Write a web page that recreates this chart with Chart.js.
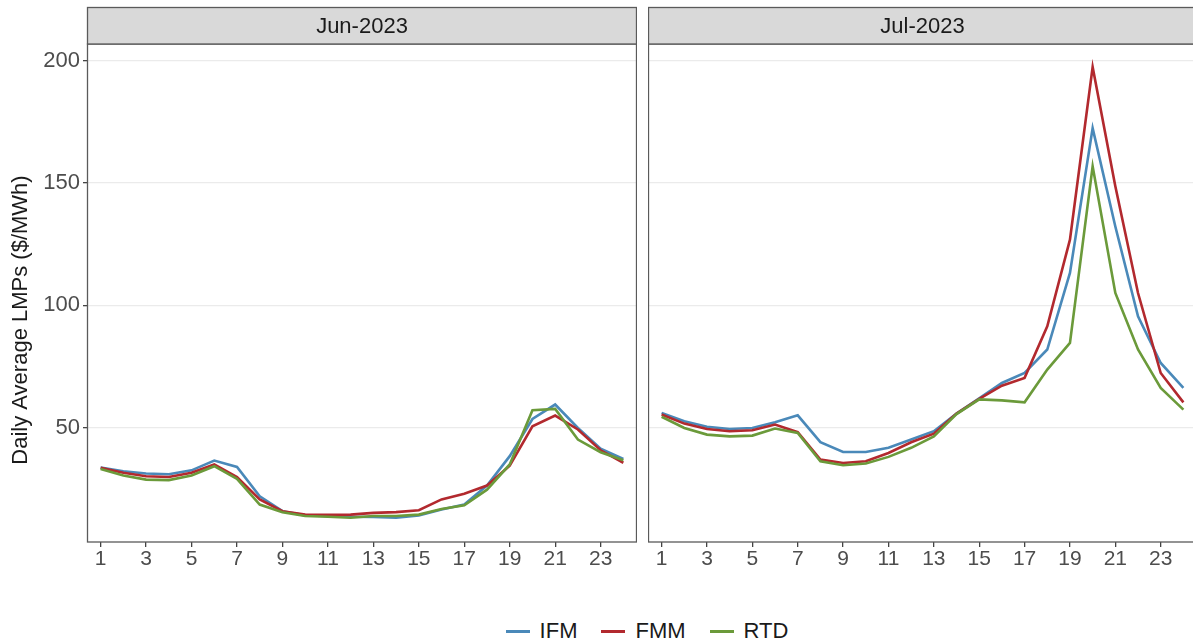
<!DOCTYPE html>
<html>
<head>
<meta charset="utf-8">
<script src="https://cdn.jsdelivr.net/npm/chart.js@4/dist/chart.umd.min.js"></script>
<style>
  html, body { margin: 0; padding: 0; background: #ffffff; }
  body { width: 1193px; height: 643px; overflow: hidden; position: relative; font-family: "Liberation Sans", Arial, sans-serif; }
  canvas { position: absolute; top: 0; }
  #cJun { left: 0; }
  #cJul { left: 648px; }
  #legend { position: absolute; top: 617px; left: 447px; width: 400px; height: 28px;
            display: flex; justify-content: center; align-items: center; }
  .item { display: flex; align-items: center; margin: 0 12px; font-size: 22px; color: #1a1a1a; }
  .swatch { width: 24px; height: 3px; margin-right: 10px; }
</style>
</head>
<body>
<canvas id="cJun" width="637" height="580"></canvas>
<canvas id="cJul" width="549" height="580"></canvas>
<div id="legend"></div>
<script>
// Hour of day (x categories)
const hours = [1, 2, 3, 4, 5, 6, 7, 8, 9, 10, 11, 12, 13, 14, 15, 16, 17, 18, 19, 20, 21, 22, 23, 24];
const xTickLabels = [1, 3, 5, 7, 9, 11, 13, 15, 17, 19, 21, 23];
const yTickLabels = [50, 100, 150, 200];

const seriesNames = ['IFM', 'FMM', 'RTD'];
const seriesColors = ['#4a89b9', '#b2292e', '#6b9a3a'];
const panelTitles = ['Jun-2023', 'Jul-2023'];
const yTitle = 'Daily Average LMPs ($/MWh)';

// June 2023 hourly average LMPs ($/MWh)
const junIFM = [33.6, 32.1, 31.2, 30.9, 32.5, 36.5, 33.9, 21.9, 15.8, 14.1, 13.8, 13.5, 13.4, 13.1, 14.0, 16.5, 18.5, 26.3, 38.3, 53.5, 59.4, 49.8, 41.3, 37.2];
const junFMM = [33.5, 31.5, 30.1, 29.8, 31.5, 34.9, 29.8, 20.6, 15.8, 14.4, 14.3, 14.4, 15.1, 15.4, 16.2, 20.6, 22.9, 26.3, 34.4, 50.5, 54.9, 49.2, 40.7, 35.6];
const junRTD = [33.0, 30.4, 28.7, 28.5, 30.4, 34.2, 29.0, 18.5, 15.4, 13.8, 13.5, 13.1, 13.8, 13.8, 14.4, 16.7, 18.2, 24.6, 34.9, 57.1, 57.6, 45.1, 39.9, 36.6];

// July 2023 hourly average LMPs ($/MWh)
const julIFM = [56.0, 52.6, 50.3, 49.4, 49.8, 52.2, 55.0, 44.0, 40.0, 40.0, 41.7, 45.1, 48.5, 55.7, 61.9, 68.2, 72.3, 81.9, 113.2, 172.4, 132.2, 95.5, 76.4, 66.2];
const julFMM = [55.3, 51.6, 49.4, 48.5, 48.9, 51.2, 48.1, 36.9, 35.5, 36.2, 39.6, 44.0, 47.5, 55.7, 61.7, 67.1, 70.3, 91.4, 126.8, 197.4, 148.6, 105.0, 72.3, 60.3];
const julRTD = [54.4, 49.8, 47.1, 46.4, 46.7, 49.6, 47.8, 36.2, 34.6, 35.3, 38.0, 41.7, 46.4, 55.5, 61.5, 61.1, 60.3, 73.7, 84.6, 156.8, 105.0, 81.9, 66.2, 57.3];

const Y_MIN = 3.2, Y_MAX = 206.8;
const X_MIN = 0.4, X_MAX = 24.6;
const FAMILY = '"Liberation Sans", Arial, sans-serif';
const TICK_FONT = { family: FAMILY, size: 21 };
const TEXT_SIZE = 22;

// Panel frame, facet strip and (left panel only) the y-axis title
const facetPlugin = {
  id: 'facet',
  afterDraw(chart, args, opts) {
    const { ctx, chartArea: a } = chart;
    ctx.save();
    ctx.lineWidth = 1.3;
    ctx.strokeStyle = '#5a5a5a';
    ctx.strokeRect(a.left + 0.5, a.top, a.right - a.left - 1, a.bottom - a.top);
    const sTop = 7.5, sBot = a.top;
    ctx.fillStyle = '#d9d9d9';
    ctx.fillRect(a.left + 0.5, sTop, a.right - a.left - 1, sBot - sTop);
    ctx.strokeRect(a.left + 0.5, sTop, a.right - a.left - 1, sBot - sTop);
    ctx.fillStyle = '#1a1a1a';
    ctx.font = `${TEXT_SIZE}px ${FAMILY}`;
    ctx.textAlign = 'center';
    ctx.textBaseline = 'middle';
    ctx.fillText(opts.title, (a.left + a.right) / 2, (sTop + sBot) / 2 + 1);
    if (opts.yTitle) {
      ctx.translate(21, 320);
      ctx.rotate(-Math.PI / 2);
      ctx.fillText(opts.yTitle, 0, 0);
    }
    ctx.restore();
  }
};

function makeDatasets(values) {
  return values.map((vals, i) => ({
    label: seriesNames[i],
    data: hours.map((h, k) => ({ x: h, y: vals[k] })),
    borderColor: seriesColors[i],
    backgroundColor: seriesColors[i],
    borderWidth: 2.6,
    pointRadius: 0,
    tension: 0,
    fill: false,
    order: 3 - i
  }));
}

function makeChart(id, values, title, showY) {
  return new Chart(document.getElementById(id), {
    type: 'line',
    data: { datasets: makeDatasets(values) },
    plugins: [facetPlugin],
    options: {
      responsive: false,
      animation: false,
      devicePixelRatio: 1,
      layout: { padding: { top: 44, right: 0, bottom: 0, left: 0 } },
      plugins: {
        legend: { display: false },
        tooltip: { enabled: false },
        facet: { title: title, yTitle: showY ? yTitle : null }
      },
      scales: {
        x: {
          type: 'linear',
          min: X_MIN, max: X_MAX,
          afterBuildTicks(s) { s.ticks = xTickLabels.map(v => ({ value: v })); },
          afterFit(s) { s.height = 38; },
          grid: { drawOnChartArea: false, drawTicks: true, tickLength: 5, tickColor: '#444', lineWidth: 1.3 },
          border: { display: false },
          ticks: { color: '#4d4d4d', font: TICK_FONT, padding: 0, maxRotation: 0, autoSkip: false,
                   callback: v => String(v) }
        },
        y: {
          type: 'linear',
          min: Y_MIN, max: Y_MAX,
          afterBuildTicks(s) { s.ticks = yTickLabels.map(v => ({ value: v })); },
          afterFit(s) { s.width = showY ? 87 : 0; },
          grid: { color: '#ebebeb', lineWidth: 1.3, drawTicks: showY, tickLength: 4, tickColor: '#444' },
          border: { display: false },
          ticks: { display: showY, color: '#4d4d4d', font: { family: FAMILY, size: 22 }, padding: 3,
                   callback: v => String(v) }
        }
      }
    }
  });
}

makeChart('cJun', [junIFM, junFMM, junRTD], panelTitles[0], true);
makeChart('cJul', [julIFM, julFMM, julRTD], panelTitles[1], false);

// Legend
const legend = document.getElementById('legend');
seriesNames.forEach((name, i) => {
  const item = document.createElement('div');
  item.className = 'item';
  const sw = document.createElement('div');
  sw.className = 'swatch';
  sw.style.background = seriesColors[i];
  const tx = document.createElement('span');
  tx.textContent = name;
  item.appendChild(sw);
  item.appendChild(tx);
  legend.appendChild(item);
});
</script>
</body>
</html>
